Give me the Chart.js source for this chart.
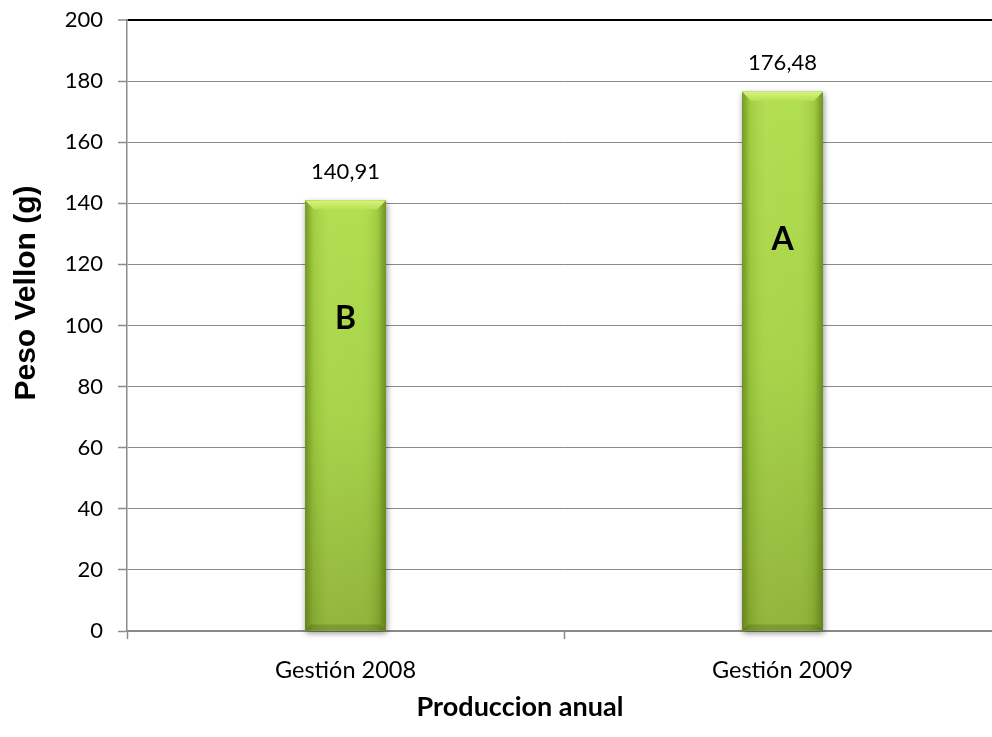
<!DOCTYPE html>
<html>
<head>
<meta charset="utf-8">
<script src="https://cdn.jsdelivr.net/npm/chart.js@4.4.0/dist/chart.umd.min.js"></script>
<style>
  html, body { margin: 0; padding: 0; background: #ffffff; overflow: hidden; }
  /* plot area runs slightly past the right edge of the window */
  #wrap { width: 1001px; height: 737px; position: relative; }
</style>
</head>
<body>
<div id="wrap"><canvas id="c"></canvas></div>
<script>
// Annual fleece weight per management year
const categories = ['Gestión 2008', 'Gestión 2009'];
const pesoVellon = [140.91, 176.48];
const valueLabels = ['140,91', '176,48'];
const groupLetters = ['B', 'A'];
const yTicks = [0, 20, 40, 60, 80, 100, 120, 140, 160, 180, 200];
const yTitle = 'Peso Vellon (g)';
const xTitle = 'Produccion anual';

const TEXT_FONT = 'Lato, "Open Sans", sans-serif';

// Shading, bevel, value labels and group letters drawn on top of each bar
const barDecor = {
  id: 'barDecor',
  beforeDatasetsDraw(chart) {
    const ctx = chart.ctx;
    ctx.save();
    chart.getDatasetMeta(0).data.forEach((bar) => {
      const l = bar.x - bar.width / 2, w = bar.width;
      const t = bar.y, h = bar.base - bar.y;
      ctx.shadowColor = 'rgba(0,0,0,0.45)';
      ctx.shadowBlur = 6;
      ctx.shadowOffsetX = 1;
      ctx.shadowOffsetY = 2;
      ctx.fillStyle = '#8fb536';
      ctx.fillRect(l, t, w, h);
    });
    ctx.restore();
  },
  afterDatasetsDraw(chart) {
    const ctx = chart.ctx;
    const meta = chart.getDatasetMeta(0);
    meta.data.forEach((bar, i) => {
      const l = bar.x - bar.width / 2, r = bar.x + bar.width / 2, w = bar.width;
      const t = bar.y, b = bar.base, h = b - t;
      ctx.save();
      // vertical body tone
      const gv = ctx.createLinearGradient(0, t, 0, b);
      gv.addColorStop(0, '#aedc4a');
      gv.addColorStop(0.5, '#a2d142');
      gv.addColorStop(1, '#8bb034');
      ctx.fillStyle = gv;
      ctx.fillRect(l, t, w, h);
      // darker side edges
      const gh = ctx.createLinearGradient(l, 0, r, 0);
      gh.addColorStop(0, 'rgba(70,95,10,0.55)');
      gh.addColorStop(0.1, 'rgba(70,95,10,0.12)');
      gh.addColorStop(0.3, 'rgba(255,255,200,0.07)');
      gh.addColorStop(0.7, 'rgba(255,255,200,0.05)');
      gh.addColorStop(0.9, 'rgba(70,95,10,0.15)');
      gh.addColorStop(1, 'rgba(70,95,10,0.6)');
      ctx.fillStyle = gh;
      ctx.fillRect(l, t, w, h);
      // top bevel
      const bev = 9;
      ctx.beginPath();
      ctx.moveTo(l, t);
      ctx.lineTo(r, t);
      ctx.lineTo(r - bev, t + bev);
      ctx.lineTo(l + bev, t + bev);
      ctx.closePath();
      const gb = ctx.createLinearGradient(0, t, 0, t + bev);
      gb.addColorStop(0, '#d6f27c');
      gb.addColorStop(1, '#b6e250');
      ctx.fillStyle = gb;
      ctx.fill();
      // bottom bevel
      ctx.beginPath();
      ctx.moveTo(l, b);
      ctx.lineTo(r, b);
      ctx.lineTo(r - 6, b - 6);
      ctx.lineTo(l + 6, b - 6);
      ctx.closePath();
      ctx.fillStyle = 'rgba(60,80,10,0.25)';
      ctx.fill();
      ctx.restore();

      // value label above the bar
      ctx.save();
      ctx.fillStyle = '#000000';
      ctx.font = '22px ' + TEXT_FONT;
      ctx.textAlign = 'center';
      ctx.textBaseline = 'bottom';
      ctx.fillText(valueLabels[i], bar.x, t - 18);
      // group letter inside the bar
      ctx.font = 'bold 32px ' + TEXT_FONT;
      ctx.textBaseline = 'middle';
      ctx.fillText(groupLetters[i], bar.x, b - h * 0.725);
      ctx.restore();
    });
  }
};

// Axis titles, placed relative to the whole chart rather than the plot area
const axisTitles = {
  id: 'axisTitles',
  afterDraw(chart) {
    const ctx = chart.ctx;
    ctx.save();
    ctx.fillStyle = '#000000';
    ctx.textAlign = 'center';
    ctx.textBaseline = 'middle';
    ctx.translate(27, 293);
    ctx.rotate(-Math.PI / 2);
    ctx.font = 'bold 30px "Liberation Sans", Arial, sans-serif';
    ctx.fillText(yTitle, 0, 0);
    ctx.restore();

    ctx.save();
    ctx.fillStyle = '#000000';
    ctx.textAlign = 'center';
    ctx.textBaseline = 'middle';
    ctx.font = 'bold 27px ' + TEXT_FONT;
    ctx.fillText(xTitle, 520, 707);
    ctx.restore();
  }
};

new Chart(document.getElementById('c'), {
  type: 'bar',
  data: {
    labels: categories,
    datasets: [{
      data: pesoVellon,
      backgroundColor: '#9dcb3f',
      borderWidth: 0,
      barPercentage: 0.185,
      categoryPercentage: 1.0
    }]
  },
  plugins: [barDecor, axisTitles],
  options: {
    responsive: true,
    maintainAspectRatio: false,
    animation: false,
    layout: { padding: 0 },
    plugins: {
      legend: { display: false },
      tooltip: { enabled: false }
    },
    scales: {
      x: {
        offset: true,
        grid: {
          offset: true,
          drawOnChartArea: false,
          drawTicks: true,
          tickLength: 8,
          tickColor: (c) => (c.index === 2 ? 'rgba(0,0,0,0)' : '#8a8a8a'),
          tickWidth: 1.5
        },
        border: { display: true, color: '#8a8a8a', width: 1.5 },
        ticks: {
          color: '#000000',
          font: { family: TEXT_FONT, size: 23.5 },
          padding: 17
        },
        title: { display: false },
        afterFit(scale) { scale.height = 106; }
      },
      y: {
        min: 0,
        max: 200,
        afterBuildTicks(scale) { scale.ticks = yTicks.map(v => ({ value: v })); },
        grid: {
          color: (c) => (c.tick && c.tick.value === 200 ? '#000000' : '#8a8a8a'),
          lineWidth: (c) => (c.tick && c.tick.value === 200 ? 2 : 1),
          tickColor: '#8a8a8a',
          tickLength: 9,
          tickWidth: 1.5
        },
        border: { display: true, color: '#8a8a8a', width: 1.5 },
        ticks: {
          color: '#000000',
          font: { family: TEXT_FONT, size: 22 },
          padding: 15
        },
        title: { display: false },
        afterFit(scale) {
          scale.width = 127;
          scale.paddingTop = 20;
          scale.paddingBottom = 0;
        }
      }
    }
  }
});
</script>
</body>
</html>
